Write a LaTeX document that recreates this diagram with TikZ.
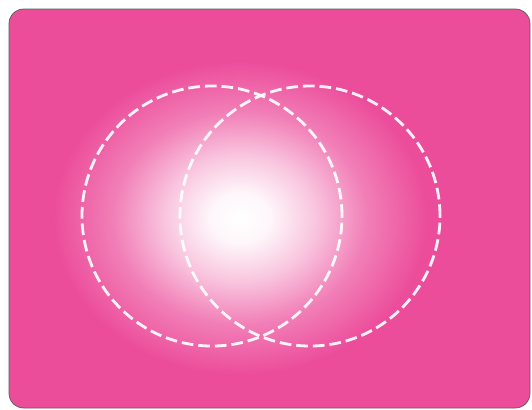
\documentclass[tikz,border=0pt]{standalone}
\usetikzlibrary{positioning}
\definecolor{cpink}{HTML}{EC4D9B}
\definecolor{cframe}{HTML}{5C5C5C}
\pgfdeclareradialshading{glow}{\pgfpoint{0bp}{0bp}}{%
  color(0bp)=(white); color(4bp)=(white!95!cpink); color(10bp)=(cpink!32!white);
  color(17bp)=(cpink!72!white); color(25bp)=(cpink); color(50bp)=(cpink)}
\tikzset{
  every picture/.style={line width=1.2pt},
  panel/.style={draw=cframe, line width=0.6pt, rounded corners=4.4mm},
  ring/.style={draw=white, line width=2.4pt, dash pattern=on 10pt off 4.2pt, opacity=0.92},
}

\begin{document}
\begin{tikzpicture}[x=0.03cm, y=-0.03cm]
  \useasboundingbox (0,0) rectangle (532,409);
  % ---------- pink card with glow
  \begin{scope}
  \clip[rounded corners=4.4mm] (9,9) rectangle (530,408);
  \fill[cpink] (0,0) rectangle (532,409);
  \shade[shading=glow] (240,218) ellipse [x radius=5.6cm, y radius=4.7cm];
  \end{scope}
  \draw[panel] (9,9) rectangle (530,408);
  % ---------- two dashed circles
  \coordinate (cl) at (212,216);
  \coordinate (cr) at (310,216);
  \draw[ring] (cl) circle [radius=3.9cm];
  \draw[ring] (cr) circle [radius=3.9cm];
\end{tikzpicture}
\end{document}
